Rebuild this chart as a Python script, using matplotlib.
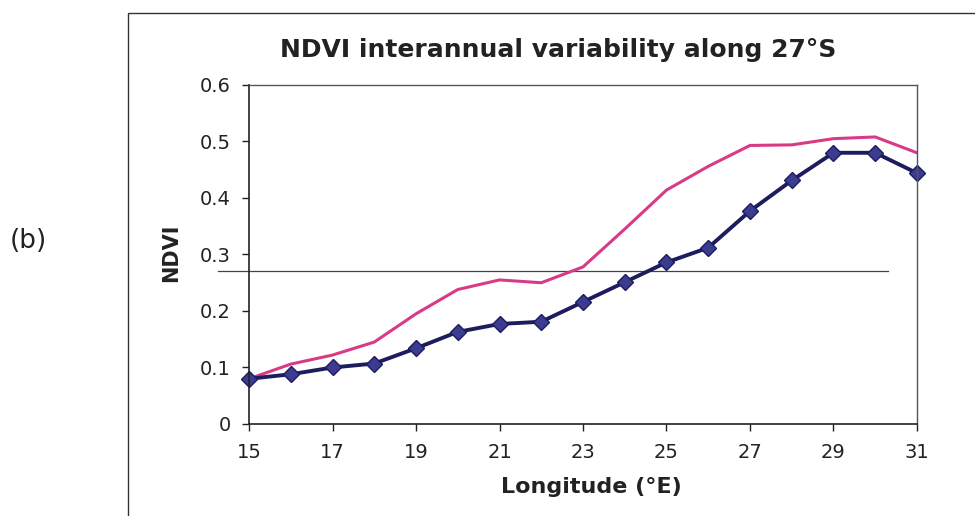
import matplotlib.pyplot as plt
from matplotlib.patches import Rectangle

plt.rcParams['font.family'] = ['DejaVu Sans']

# Longitude (deg E) and NDVI values along 27 S
lon = list(range(15, 32))
ndvi_mean = [0.080, 0.088, 0.100, 0.107, 0.134, 0.163, 0.177, 0.181, 0.216,
             0.251, 0.286, 0.312, 0.377, 0.431, 0.480, 0.480, 0.444]
ndvi_upper = [0.080, 0.106, 0.122, 0.145, 0.195, 0.238, 0.255, 0.250, 0.278,
              0.345, 0.414, 0.456, 0.493, 0.494, 0.505, 0.508, 0.480]
threshold = 0.27
threshold_x = [14.25, 30.3]

xticks = [15, 17, 19, 21, 23, 25, 27, 29, 31]
yticks = [0, 0.1, 0.2, 0.3, 0.4, 0.5, 0.6]

fig = plt.figure(figsize=(9.75, 5.16), dpi=100)
ax = fig.add_axes([0.2554, 0.1783, 0.6851, 0.657])

# outer chart frame
fig.patches.append(Rectangle((128 / 975, -0.1), 1.0, 1 - 13 / 516 + 0.1,
                             transform=fig.transFigure, fill=False,
                             edgecolor='#333333', linewidth=1.0))

ax.plot(threshold_x, [threshold, threshold], color='#444444', linewidth=0.9,
        clip_on=False)
ax.plot(lon, ndvi_upper, color='#d93a86', linewidth=2.2)
ax.plot(lon, ndvi_mean, color='#1c1c5e', linewidth=2.8, marker='D',
        markersize=8, markerfacecolor='#3b3b8f', markeredgecolor='#1c1c5e',
        clip_on=False)

ax.set_xlim(15, 31)
ax.set_ylim(0, 0.6)
ax.set_xticks(xticks)
ax.set_xticklabels([str(v) for v in xticks])
ax.set_yticks(yticks)
ax.set_yticklabels(['0'] + [f'{v:.1f}' for v in yticks[1:]])
ax.tick_params(direction='out', length=5, width=1, labelsize=14,
               colors='#222222')
ax.tick_params(axis='x', pad=9)
ax.tick_params(axis='y', pad=8)

for side in ['left', 'bottom']:
    ax.spines[side].set_color('#222222')
    ax.spines[side].set_linewidth(1.2)
for side in ['top', 'right']:
    ax.spines[side].set_color('#555555')
    ax.spines[side].set_linewidth(1.0)

ax.set_xlabel('Longitude (°E)', fontsize=16, fontweight='bold',
              color='#222222', va='center')
ax.xaxis.set_label_coords(0.513, -0.186)
ax.set_ylabel('NDVI', fontsize=15, fontweight='bold', color='#222222',
              va='center')
ax.yaxis.set_label_coords(-0.117, 0.504)

fig.text(558 / 975, 1 - 50 / 516, 'NDVI interannual variability along 27°S',
         fontsize=18, fontweight='bold', ha='center', va='center',
         color='#222222')

fig.text(28 / 975, 1 - 241 / 516, '(b)', fontsize=19, ha='center',
         va='center', color='#222222')

fig.savefig('out.png', dpi=100)
